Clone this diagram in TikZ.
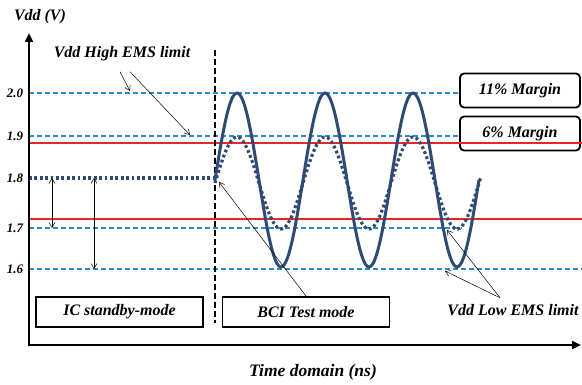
\documentclass[tikz,border=0pt]{standalone}
\usepackage{fontspec}
\setmainfont{Liberation Serif}
\usetikzlibrary{arrows.meta}
\definecolor{wavenavy}{HTML}{2F4B73}
\definecolor{limitblue}{HTML}{2B8ACB}
\definecolor{marginred}{HTML}{E3272B}
\tikzset{
  axis/.style={line width=2.6pt,line join=miter,{Triangle[length=9pt,width=8pt]}-{Triangle[length=9pt,width=8pt]}},
  limitline/.style={limitblue,line width=1.1pt,dash pattern=on 5pt off 3pt},
  redline/.style={marginred,line width=1.2pt},
  wave/.style={wavenavy,line width=3pt},
  dotwave/.style={wavenavy,line width=3.2pt,dash pattern=on 2.8pt off 2.6pt},
  splitline/.style={line width=2.4pt,dash pattern=on 6pt off 3pt},
  note/.style={line width=0.5pt,-{Straight Barb[length=5pt,width=6pt]}},
  span/.style={line width=0.5pt,{Straight Barb[length=5pt,width=6pt]}-{Straight Barb[length=5pt,width=6pt]}},
  modebox/.style={draw,line width=1.8pt,fill=white,minimum width=167pt,minimum height=30pt,inner sep=0pt},
  marginbox/.style={draw,line width=1.8pt,fill=white,rounded corners=4pt,minimum width=120pt,minimum height=34pt,inner sep=0pt},
  ticklbl/.style={font=\fontsize{13}{15}\selectfont\bfseries\itshape}
}

\begin{document}
\begin{tikzpicture}[x=1pt,y=-1pt,
  every node/.style={font=\fontsize{16}{18}\selectfont\bfseries\itshape}]
\useasboundingbox (0,0) rectangle (582,385);

% axes
\coordinate (O) at (29,345);
\coordinate (ytop) at (29,33);
\coordinate (xend) at (581,345);

\node (vddlbl) at (40,17) {Vdd (V)};
\node[font=\fontsize{17.5}{19}\selectfont\bfseries\itshape] (timelbl) at (313,372) {Time domain (ns)};

% tick labels
\foreach \v/\y in {2.0/93,1.9/136,1.8/178,1.7/228,1.6/269}
  \node[ticklbl] (tick\y) at (15,\y) {\v};

% margin boxes
\node[marginbox] (m11) at (520,90.5) {11\% Margin};
\node[marginbox] (m6) at (520,133.5) {6\% Margin};

% limits (dashed) and margins (red)
\draw[limitline] (29,93) -- (m11.west |- 0,93);
\draw[limitline] (29,136) -- (m6.west |- 0,136);
\draw[limitline] (29,228) -- (462,228);
\draw[limitline] (29,269) -- (582,269);
\draw[redline] (29,143) -- (582,143);
\draw[redline] (29,219) -- (582,219);

% standby level and mode split
\coordinate (test18) at (215,178);
\draw[dotwave] (29,178) -- (test18);
\draw[splitline] (215,50) -- (215,323);

% waveforms
\draw[wave] plot[domain=215:479,samples=150,smooth] (\x,{180-87*sin(4.0909*(\x-215))});
\draw[dotwave] plot[domain=215:481,samples=150,smooth] (\x,{183-46*sin(4.0909*(\x-215))});

% margin spans
\coordinate (s1a) at (52,178);
\coordinate (s1b) at (52,228);
\coordinate (s2a) at (94,178);
\coordinate (s2b) at (94,269);
\draw[span] (s1a) -- (s1b);
\draw[span] (s2a) -- (s2b);

% mode boxes
\node[modebox] (ic) at (119.5,312) {IC standby-mode};
\node[modebox] (bci) at (306,312) {BCI Test mode};

% annotations
\node (hilbl) at (122,54) {Vdd High EMS limit};
\coordinate (hi20) at (130,91);
\coordinate (hi19) at (190,135);
\draw[note] ([xshift=-2pt,yshift=-7pt]hilbl.south) -- (hi20);
\draw[note] ([xshift=8pt,yshift=-7pt]hilbl.south) -- (hi19);

\node (lolbl) at (513,310) {Vdd Low EMS limit};
\coordinate (lo16) at (445,271);
\coordinate (lo17) at (447,230);
\draw[note] ([xshift=-13pt,yshift=3pt]lolbl.north) -- (lo16);
\draw[note] ([xshift=-13pt,yshift=3pt]lolbl.north) -- (lo17);

\draw[note] (bci.north) -- ([xshift=4pt,yshift=-4pt]test18);

\draw[axis] (ytop) -- (O) -- (xend);

\end{tikzpicture}
\end{document}
